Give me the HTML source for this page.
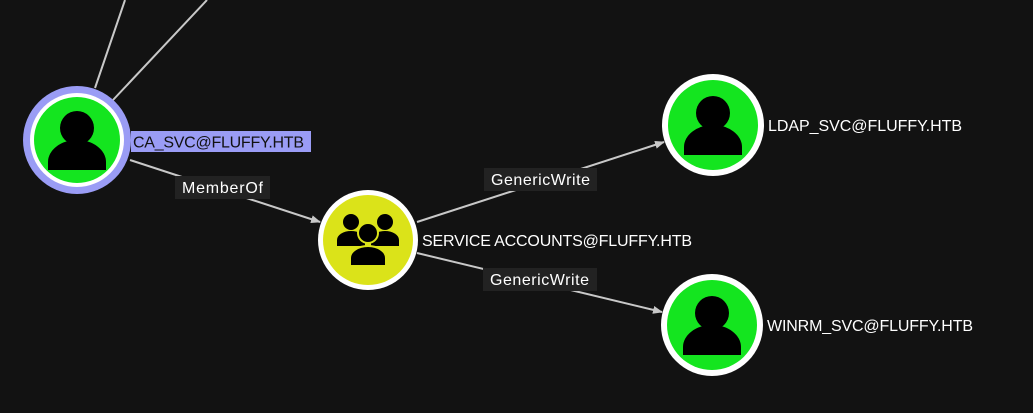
<!DOCTYPE html>
<html><head><style>
html,body{margin:0;padding:0;background:#121212;}
svg{display:block;}
text{font-family:"Liberation Sans",sans-serif;font-size:16px;fill:#fff;}
</style></head><body>
<svg width="1033" height="413" viewBox="0 0 1033 413">
<defs>
<marker id="a" markerWidth="10" markerHeight="8" refX="9" refY="4" orient="auto" markerUnits="userSpaceOnUse"><path d="M0,0 L10,4 L0,8 z" fill="#c8c8c8"/></marker>
<g id="user"><circle cx="0" cy="-14" r="17" fill="#000"/><path d="M-29,28 L-29,20 A29,22 0 0 1 29,20 L29,28 Z" fill="#000"/></g>
</defs>
<g stroke="#c8c8c8" stroke-width="2" fill="none">
<line x1="95" y1="88" x2="125" y2="0"/>
<line x1="113" y1="100" x2="207" y2="0"/>
<line x1="130" y1="160" x2="320" y2="222" marker-end="url(#a)"/>
<line x1="417" y1="222" x2="664" y2="142" marker-end="url(#a)"/>
<line x1="417" y1="253" x2="662" y2="312" marker-end="url(#a)"/>
</g>
<circle cx="77" cy="140" r="54" fill="#9a9cf5"/>
<circle cx="77" cy="140" r="47" fill="#fff"/>
<circle cx="77" cy="140" r="43" fill="#14e51f"/>
<use href="#user" x="77" y="142"/>
<rect x="131" y="131" width="180" height="21" fill="#9a9cf5"/>
<text x="133" y="147.5" style="fill:#111" textLength="171">CA_SVC@FLUFFY.HTB</text>
<circle cx="368" cy="240" r="50" fill="#fff"/>
<circle cx="368" cy="240" r="45" fill="#dbe319"/>
<g fill="#000">
<circle cx="351" cy="222" r="8"/><circle cx="385" cy="222" r="8"/>
<path d="M337,246 L337,240 A14,9 0 0 1 365,240 L365,246Z"/>
<path d="M371,246 L371,240 A14,9 0 0 1 399,240 L399,246Z"/>
<circle cx="368" cy="233" r="10" stroke="#dbe319" stroke-width="2"/>
<path d="M350,266 L350,258 A18,12 0 0 1 386,258 L386,266Z" stroke="#dbe319" stroke-width="2"/>
</g>
<text x="422" y="246" textLength="270">SERVICE ACCOUNTS@FLUFFY.HTB</text>
<circle cx="713" cy="125" r="51" fill="#fff"/>
<circle cx="713" cy="125" r="45" fill="#14e51f"/>
<use href="#user" x="713" y="127"/>
<text x="768" y="131" textLength="194">LDAP_SVC@FLUFFY.HTB</text>
<circle cx="712" cy="325" r="51" fill="#fff"/>
<circle cx="712" cy="325" r="45" fill="#14e51f"/>
<use href="#user" x="712" y="327"/>
<text x="767" y="331" textLength="206">WINRM_SVC@FLUFFY.HTB</text>
<rect x="175" y="176" width="95" height="23" fill="#222"/>
<text x="182" y="193" textLength="81">MemberOf</text>
<rect x="484" y="168" width="113" height="23" fill="#222"/>
<text x="491" y="185" textLength="99">GenericWrite</text>
<rect x="483" y="268" width="114" height="23" fill="#222"/>
<text x="490" y="285" textLength="99">GenericWrite</text>
</svg>
</body></html>
